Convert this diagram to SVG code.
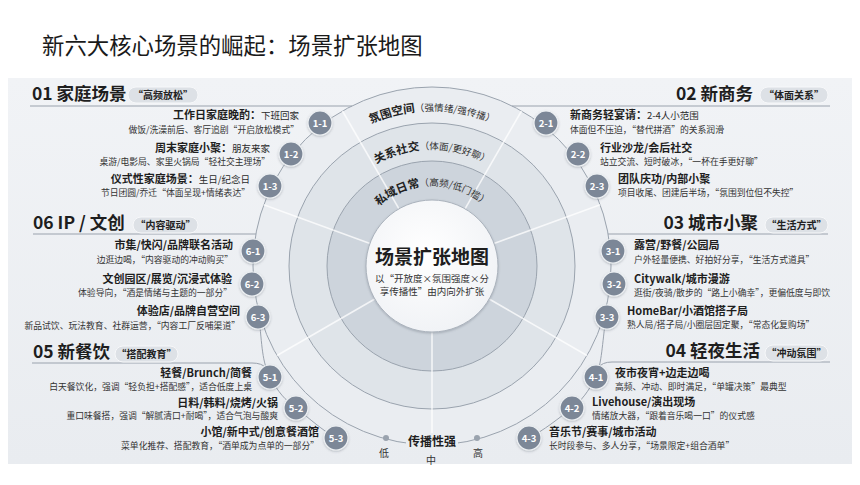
<svg xmlns="http://www.w3.org/2000/svg" width="860" height="485" viewBox="0 0 860 485">
<defs>
<linearGradient id="bg" x1="0" y1="0" x2="0" y2="1">
<stop offset="0" stop-color="#f1f3f6"/><stop offset="1" stop-color="#e9ecf0"/>
</linearGradient>
<radialGradient id="gc" cx="0.45" cy="0.4" r="0.6">
<stop offset="0" stop-color="#ffffff"/><stop offset="1" stop-color="#f1f3f6"/>
</radialGradient>
<filter id="sh" x="-30%" y="-30%" width="160%" height="160%">
<feDropShadow dx="0" dy="1" stdDeviation="1.2" flood-color="#5a6470" flood-opacity="0.35"/>
</filter>
<path id="a1" d="M297.8,188.5 A155,155 0 0 1 566.2,188.5"/>
<path id="a2" d="M331.3,208 A116,116 0 0 1 532.7,208"/>
<path id="a3" d="M362.7,226 A80,80 0 0 1 501.3,226"/>
<style>
text{font-family:"Noto Sans CJK SC","Noto Sans",sans-serif}
.h{font-size:17.5px;font-weight:700;fill:#1e1e1e}
.pill{fill:#dde1e6;stroke:#f7f8fa;stroke-width:1}
.pt{font-size:10px;font-weight:700;fill:#222;text-anchor:middle}
.t{font-size:11px;font-weight:700;fill:#1e1e1e}
.tn{font-size:9.5px;font-weight:400;fill:#2a2a2a}
.s{font-size:8.8px;fill:#333}
.e{text-anchor:end}
.nc{fill:#7b8797;stroke:#eef1f4;stroke-width:1.2}
.nt{font-size:9.5px;font-weight:700;fill:#ffffff;text-anchor:middle}
.ln{fill:none;stroke:#9aa2ad;stroke-width:1}
.dv{stroke:#ffffff;stroke-width:1.6;stroke-opacity:0.75}
.ring{stroke:#9aa3ae;stroke-width:1}
.arc{font-size:11.5px;font-weight:700;fill:#222}
.arcp{font-size:9.5px;font-weight:400;fill:#333}
</style>
</defs>
<rect width="860" height="485" fill="#ffffff"/>
<text x="42" y="54" font-size="22.4" fill="#1a1a1a">新六大核心场景的崛起：场景扩张地图</text>
<rect x="8" y="78" width="844" height="386" fill="url(#bg)"/>

<g id="rings">
<circle cx="432" cy="266" r="179" fill="#eaedf1" class="ring"/>
<circle cx="432" cy="266" r="143" fill="#dfe4e9" class="ring"/>
<circle cx="432" cy="266" r="105" fill="#cdd4dc" class="ring"/>
<line class="dv" x1="399" y1="208.8" x2="342.5" y2="111"/>
<line class="dv" x1="465" y1="208.8" x2="521.5" y2="111"/>
<line class="dv" x1="494" y1="243.4" x2="600.2" y2="204.8"/>
<line class="dv" x1="489.2" y1="299" x2="587" y2="355.5"/>
<line class="dv" x1="432" y1="332" x2="432" y2="445"/>
<line class="dv" x1="374.8" y1="299" x2="277" y2="355.5"/>
<line class="dv" x1="370" y1="243.4" x2="263.8" y2="204.8"/>
<text class="arc"><textPath href="#a1" startOffset="50%" text-anchor="middle">氛围空间<tspan class="arcp">（强情绪/强传播）</tspan></textPath></text>
<text class="arc"><textPath href="#a2" startOffset="50%" text-anchor="middle">关系社交<tspan class="arcp">（体面/更好聊）</tspan></textPath></text>
<text class="arc"><textPath href="#a3" startOffset="50%" text-anchor="middle">私域日常<tspan class="arcp">（高频/低门槛）</tspan></textPath></text>
</g>

<g id="center">
<circle cx="432" cy="266" r="66" fill="url(#gc)" stroke="#aab2bc" stroke-width="1" filter="url(#sh)"/>
<text x="432" y="264" font-size="19" font-weight="700" fill="#1e1e1e" text-anchor="middle">场景扩张地图</text>
<text x="432" y="282" font-size="9.5" fill="#333" text-anchor="middle">以“开放度×氛围强度×分</text>
<text x="432" y="295" font-size="9.5" fill="#333" text-anchor="middle">享传播性”由内向外扩张</text>
</g>

<g id="connectors">
<path class="ln" d="M30,106 H352"/>
<path class="ln" d="M512,106 H830"/>
<path class="ln" d="M33,234 H256"/>
<path class="ln" d="M608,234 H828"/>
<path class="ln" d="M32,363 H252 Q262,363 266,368"/>
<path class="ln" d="M598,368 Q602,362 612,362 H830"/>
<path class="ln" d="M259,317 C262,345 262,362 270,377 C278,392 285,400 296,408 C310,419 322,430 336,438"/>
<path class="ln" d="M606,317 C602,345 602,362 596,377 C588,392 582,400 572,408 C558,419 544,430 529,438"/>
</g>

<g id="scale">
<rect x="406" y="433" width="52" height="16" fill="#eaedf0"/>
<text x="432" y="446" font-size="12" font-weight="700" fill="#1e1e1e" text-anchor="middle">传播性强</text>
<circle cx="386" cy="438" r="3" fill="#9aa3ae"/>
<circle cx="477" cy="438" r="3" fill="#9aa3ae"/>
<text x="384" y="457" font-size="10" fill="#333" text-anchor="middle">低</text>
<text x="431" y="464" font-size="10" fill="#333" text-anchor="middle">中</text>
<text x="478" y="457" font-size="10" fill="#333" text-anchor="middle">高</text>
</g>

<g id="h01"><text class="h" x="32" y="100">01 家庭场景</text><rect class="pill" x="128" y="87" width="70" height="16" rx="8"/><text class="pt" x="163" y="99">“高频放松”</text></g>
<g id="h02"><text class="h e" x="753" y="100">02 新商务</text><rect class="pill" x="760" y="87" width="68" height="16" rx="8"/><text class="pt" x="794" y="99">“体面关系”</text></g>
<g id="h06"><text class="h" x="33" y="229">06 IP / 文创</text><rect class="pill" x="133" y="217" width="65" height="16" rx="8"/><text class="pt" x="165.5" y="229">“内容驱动”</text></g>
<g id="h03"><text class="h e" x="758" y="229">03 城市小聚</text><rect class="pill" x="765" y="217" width="63" height="16" rx="8"/><text class="pt" x="796.5" y="229">“生活方式”</text></g>
<g id="h05"><text class="h" x="33" y="358">05 新餐饮</text><rect class="pill" x="115" y="346" width="63" height="16" rx="8"/><text class="pt" x="146.5" y="358">“搭配教育”</text></g>
<g id="h04"><text class="h e" x="760" y="357">04 轻夜生活</text><rect class="pill" x="765" y="345" width="63" height="16" rx="8"/><text class="pt" x="796.5" y="357">“冲动氛围”</text></g>

<g id="n1-1"><circle class="nc" cx="320" cy="123" r="12" filter="url(#sh)"/><text class="nt" x="320" y="126.5">1-1</text>
<text class="t e" x="299" y="119">工作日家庭晚酌：<tspan class="tn">下班回家</tspan></text><text class="s e" x="299" y="133">做饭/洗澡前后、客厅追剧“开启放松模式”</text></g>
<g id="n1-2"><circle class="nc" cx="291" cy="154" r="12" filter="url(#sh)"/><text class="nt" x="291" y="157.5">1-2</text>
<text class="t e" x="270" y="152">周末家庭小聚：<tspan class="tn">朋友来家</tspan></text><text class="s e" x="270" y="165">桌游/电影局、家里火锅局“轻社交主理场”</text></g>
<g id="n1-3"><circle class="nc" cx="270" cy="186" r="12" filter="url(#sh)"/><text class="nt" x="270" y="189.5">1-3</text>
<text class="t e" x="250" y="183">仪式性家庭场景：<tspan class="tn">生日/纪念日</tspan></text><text class="s e" x="250" y="196">节日团圆/乔迁“体面呈现+情绪表达”</text></g>

<g id="n6-1"><circle class="nc" cx="253" cy="251" r="12" filter="url(#sh)"/><text class="nt" x="253" y="254.5">6-1</text>
<text class="t e" x="233" y="249">市集/快闪/品牌联名活动</text><text class="s e" x="233" y="263">边逛边喝，“内容驱动的冲动购买”</text></g>
<g id="n6-2"><circle class="nc" cx="252" cy="284" r="12" filter="url(#sh)"/><text class="nt" x="252" y="287.5">6-2</text>
<text class="t e" x="232" y="283">文创园区/展览/沉浸式体验</text><text class="s e" x="232" y="296">体验导向，“酒是情绪与主题的一部分”</text></g>
<g id="n6-3"><circle class="nc" cx="258" cy="317" r="12" filter="url(#sh)"/><text class="nt" x="258" y="320.5">6-3</text>
<text class="t e" x="240" y="315">体验店/品牌自营空间</text><text class="s e" x="240" y="329">新品试饮、玩法教育、社群运营，“内容工厂反哺渠道”</text></g>

<g id="n5-1"><circle class="nc" cx="270" cy="377" r="12" filter="url(#sh)"/><text class="nt" x="270" y="380.5">5-1</text>
<text class="t e" x="252" y="377">轻餐/Brunch/简餐</text><text class="s e" x="252" y="390">白天餐饮化，强调“轻负担+搭配感”，适合低度上桌</text></g>
<g id="n5-2"><circle class="nc" cx="296" cy="408" r="12" filter="url(#sh)"/><text class="nt" x="296" y="411.5">5-2</text>
<text class="t e" x="278" y="407">日料/韩料/烧烤/火锅</text><text class="s e" x="278" y="419">重口味餐搭，强调“解腻清口+耐喝”，适合气泡与酸爽</text></g>
<g id="n5-3"><circle class="nc" cx="336" cy="438" r="12" filter="url(#sh)"/><text class="nt" x="336" y="441.5">5-3</text>
<text class="t e" x="319" y="436">小馆/新中式/创意餐酒馆</text><text class="s e" x="319" y="449">菜单化推荐、搭配教育，“酒单成为点单的一部分”</text></g>

<g id="n2-1"><circle class="nc" cx="546" cy="123" r="12" filter="url(#sh)"/><text class="nt" x="546" y="126.5">2-1</text>
<text class="t" x="570" y="119">新商务轻宴请：<tspan class="tn">2-4人小范围</tspan></text><text class="s" x="570" y="133">体面但不压迫，“替代拼酒”的关系润滑</text></g>
<g id="n2-2"><circle class="nc" cx="578" cy="154" r="12" filter="url(#sh)"/><text class="nt" x="578" y="157.5">2-2</text>
<text class="t" x="600" y="152">行业沙龙/会后社交</text><text class="s" x="600" y="165">站立交流、短时破冰，“一杯在手更好聊”</text></g>
<g id="n2-3"><circle class="nc" cx="597" cy="186" r="12" filter="url(#sh)"/><text class="nt" x="597" y="189.5">2-3</text>
<text class="t" x="618" y="183">团队庆功/内部小聚</text><text class="s" x="618" y="196">项目收尾、团建后半场，“氛围到位但不失控”</text></g>

<g id="n3-1"><circle class="nc" cx="613" cy="251" r="12" filter="url(#sh)"/><text class="nt" x="613" y="254.5">3-1</text>
<text class="t" x="634" y="249">露营/野餐/公园局</text><text class="s" x="634" y="263">户外轻量便携、好拍好分享，“生活方式道具”</text></g>
<g id="n3-2"><circle class="nc" cx="614" cy="284" r="12" filter="url(#sh)"/><text class="nt" x="614" y="287.5">3-2</text>
<text class="t" x="634" y="283">Citywalk/城市漫游</text><text class="s" x="634" y="296">逛街/夜骑/散步的“路上小确幸”，更偏低度与即饮</text></g>
<g id="n3-3"><circle class="nc" cx="607" cy="317" r="12" filter="url(#sh)"/><text class="nt" x="607" y="320.5">3-3</text>
<text class="t" x="627" y="315">HomeBar/小酒馆搭子局</text><text class="s" x="627" y="328">熟人局/搭子局/小圈层固定聚，“常态化复购场”</text></g>

<g id="n4-1"><circle class="nc" cx="596" cy="377" r="12" filter="url(#sh)"/><text class="nt" x="596" y="380.5">4-1</text>
<text class="t" x="615" y="377">夜市夜宵+边走边喝</text><text class="s" x="615" y="390">高频、冲动、即时满足，“单罐决策”最典型</text></g>
<g id="n4-2"><circle class="nc" cx="572" cy="408" r="12" filter="url(#sh)"/><text class="nt" x="572" y="411.5">4-2</text>
<text class="t" x="592" y="406">Livehouse/演出现场</text><text class="s" x="592" y="419">情绪放大器，“跟着音乐喝一口”的仪式感</text></g>
<g id="n4-3"><circle class="nc" cx="529" cy="438" r="12" filter="url(#sh)"/><text class="nt" x="529" y="441.5">4-3</text>
<text class="t" x="549" y="436">音乐节/赛事/城市活动</text><text class="s" x="549" y="449">长时段参与、多人分享，“场景限定+组合酒单”</text></g>
</svg>
